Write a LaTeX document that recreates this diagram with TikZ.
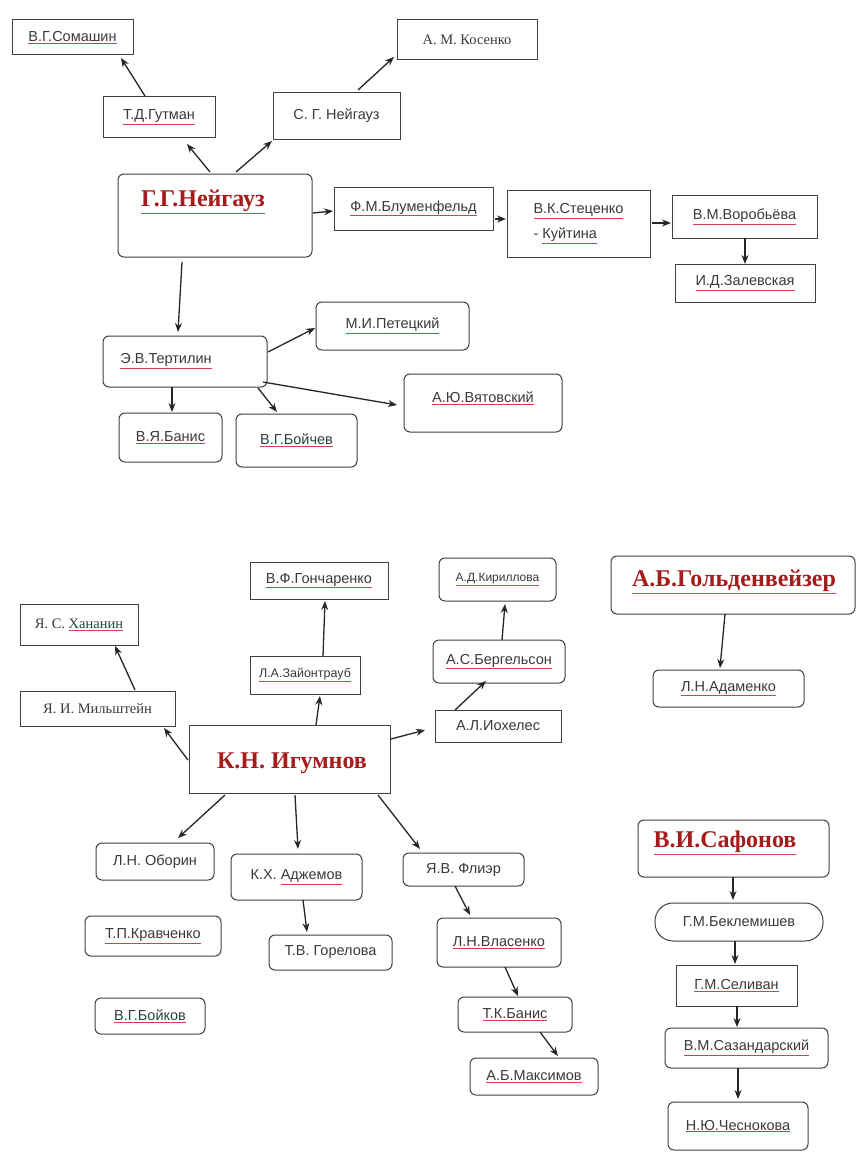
\documentclass[tikz,border=0pt]{standalone}
\usepackage{fontspec}
\setmainfont{Liberation Sans}
\newfontfamily\tnr{Liberation Serif}
\usetikzlibrary{arrows.meta}
\definecolor{bigred}{HTML}{A51C1C}
\definecolor{txt}{HTML}{3A3A3A}
\definecolor{spell}{HTML}{D04050}
\definecolor{edge}{HTML}{404040}
\newcommand\ul[1]{{\color{spell}\underline{\color{txt}#1}}}
\newcommand\ulr[1]{{\color{spell}\underline{\color{bigred}#1}}}
\newcommand\bx[7][sq]{\node[#1, minimum width={(#5)-(#3)}, minimum height={(#6)-(#4)}] (#2) at ({(#3+#5)/2},{(#4+#6)/2}) {#7};}
\newcommand\conn[8]{\draw[arr] ([xshift=#3pt,yshift=#4pt]#1.#2) -- ([xshift=#7pt,yshift=#8pt]#5.#6);}
\tikzset{
 sq/.style={draw=edge, line width=1pt, inner sep=0pt, outer sep=0pt, font=\fontsize{14.5}{16}\selectfont, text=txt},
 rd/.style={sq, rounded corners=6pt},
 stad/.style={sq, rounded corners=18pt},
 txtn/.style={inner sep=0pt, font=\fontsize{14.5}{16}\selectfont, text=txt},
 big/.style={inner sep=0pt, font=\tnr\bfseries\fontsize{24}{28}\selectfont, text=bigred},
 arr/.style={draw=black!85, line width=1.3pt, -{Stealth[length=9pt,width=7pt]}}
}
\begin{document}
\begin{tikzpicture}[x=1pt,y=-1pt]
\useasboundingbox[fill=white] (0,0) rectangle (857,1153);
% ---- Neuhaus ----
\bx{som}{12}{20}{133}{55}{\ul{В.Г.Сомашин}}
\bx{gut}{103}{97}{215}{137}{\ul{Т.Д.Гутман}}
\bx{sg}{273}{93}{400}{139}{С. Г. Нейгауз}
\bx{kos}{397}{20}{537}{60}{\tnr А. М. Косенко}
\bx[rd]{nei}{118}{174}{312}{257}{}
\node[big] (neit) at (203,202) {\ulr{Г.Г.Нейгауз}};
\bx{blu}{334}{187}{493}{230}{\ul{Ф.М.Блуменфельд}}
\bx[sq,align=left,font=\fontsize{14.5}{25}\selectfont]{ste}{507}{190}{650}{257}{\ul{В.К.Стеценко}\\- \ul{Куйтина}}
\bx{vor}{672}{195}{817}{238}{\ul{В.М.Воробьёва}}
\bx{zal}{675}{264}{815}{302}{\ul{И.Д.Залевская}}
\bx[rd]{ter}{103}{336}{267}{387}{}
\node[txtn] (tert) at (166,361) {\ul{Э.В.Тертилин}};
\bx[rd]{pet}{316}{302}{469}{350}{\ul{М.И.Петецкий}}
\bx[rd]{vya}{404}{374}{562}{432}{}
\node[txtn] (vyat) at (483,398) {\ul{А.Ю.Вятовский}};
\bx[rd]{ban}{119}{413}{222}{462}{\ul{В.Я.Банис}}
\bx[rd]{boi}{236}{414}{357}{467}{\ul{В.Г.Бойчев}}
\conn{nei}{north west}{92}{2}{gut}{south west}{84}{-7}
\conn{nei}{north west}{118}{2}{sg}{south west}{-1}{-2}
\conn{gut}{north west}{42}{1}{som}{south west}{109}{-3}
\conn{sg}{north west}{85}{3}{kos}{south west}{-3}{3}
\conn{nei}{north east}{1}{-39}{blu}{west}{-1}{-2.5}
\conn{blu}{south east}{2}{11}{ste}{south west}{-1}{38}
\conn{ste}{north east}{2}{-33}{vor}{north west}{-1}{-28}
\conn{vor}{south west}{73}{0}{zal}{north west}{70}{0}
\conn{nei}{south west}{64}{-5}{ter}{north west}{75}{4}
\conn{ter}{north east}{1}{-16}{pet}{south west}{-1}{22}
\conn{ter}{south east}{-4}{5}{vya}{south west}{-7}{27}
\conn{ter}{south west}{69}{0}{ban}{north west}{53}{1}
\conn{ter}{south east}{-9}{-1}{boi}{north west}{41}{2}
% ---- Igumnov ----
\bx{han}{20}{604}{138}{645}{\tnr Я. С. \ul{Хананин}}
\bx{mil}{20}{691}{175}{726}{\tnr Я. И. Мильштейн}
\bx{gon}{250}{562}{388}{599}{\ul{В.Ф.Гончаренко}}
\bx[sq,font=\fontsize{12.5}{14}\selectfont]{zai}{250}{656}{360}{694}{\ul{Л.А.Зайонтрауб}}
\bx{ig}{189}{725}{390}{793}{}
\node[big] (igt) at (292,763) {К.Н. Игумнов};
\bx{ioh}{435}{710}{561}{742}{А.Л.Иохелес}
\bx[rd]{ber}{433}{640}{565}{683}{\ul{А.С.Бергельсон}}
\bx[rd,font=\fontsize{12}{14}\selectfont]{kir}{439}{558}{556}{601}{\ul{А.Д.Кириллова}}
\bx[rd]{obo}{96}{843}{214}{880}{Л.Н. Оборин}
\bx[rd]{adj}{231}{854}{362}{900}{К.Х. \ul{Аджемов}}
\bx[rd]{gor}{269}{935}{392}{970}{Т.В. Горелова}
\bx[rd]{fli}{403}{853}{524}{886}{Я.В. Флиэр}
\bx[rd]{vla}{437}{918}{561}{967}{\ul{Л.Н.Власенко}}
\bx[rd]{kra}{85}{916}{221}{956}{\ul{Т.П.Кравченко}}
\bx[rd]{bky}{95}{998}{205}{1034}{\ul{В.Г.Бойков}}
\bx[rd]{tkb}{458}{997}{572}{1032}{\ul{Т.К.Банис}}
\bx[rd]{max}{470}{1058}{598}{1095}{\ul{А.Б.Максимов}}
\conn{ig}{north west}{-1}{-35}{mil}{south west}{144}{-2}
\conn{mil}{north west}{115}{1}{han}{south west}{95}{-1}
\conn{ig}{north west}{127}{0}{zai}{south west}{70}{-2}
\conn{zai}{north west}{73}{0}{gon}{south west}{75}{-2}
\conn{ig}{north east}{1}{-14}{ioh}{south west}{-10}{12}
\conn{ioh}{north west}{20}{0}{ber}{south west}{53}{2}
\conn{ber}{north west}{69}{0}{kir}{south west}{66}{-3}
\conn{ig}{south west}{36}{-2}{obo}{north west}{82}{5}
\conn{ig}{south west}{106}{-2}{adj}{north west}{67}{5}
\conn{ig}{south west}{189}{-2}{fli}{north west}{17}{4}
\conn{adj}{south west}{72}{0}{gor}{north west}{38}{3}
\conn{fli}{south west}{52}{0}{vla}{north west}{33}{3}
\conn{vla}{south west}{68}{0}{tkb}{north west}{60}{1}
\conn{tkb}{south west}{82}{0}{max}{north west}{88}{2}
% ---- Goldenweiser ----
\bx[rd]{gol}{611}{556}{855}{614}{}
\node[big] (golt) at (734,582) {\ulr{А.Б.Гольденвейзер}};
\bx[rd]{ada}{653}{670}{804}{707}{\ul{Л.Н.Адаменко}}
\conn{gol}{south west}{114}{0}{ada}{north west}{67}{2}
% ---- Safonov ----
\bx[rd]{saf}{638}{820}{829}{877}{}
\node[big] (saft) at (725,843) {\ulr{В.И.Сафонов}};
\bx[stad]{bek}{655}{903}{823}{941}{Г.М.Беклемишев}
\bx{sel}{676}{965}{797}{1006}{\ul{Г.М.Селиван}}
\bx[rd]{saz}{665}{1028}{828}{1068}{\ul{В.М.Сазандарский}}
\bx[rd]{che}{668}{1102}{808}{1150}{\ul{Н.Ю.Чеснокова}}
\conn{saf}{south west}{95}{0}{bek}{north west}{78}{3}
\conn{bek}{south west}{80}{0}{sel}{north west}{59}{1}
\conn{sel}{south west}{61}{0}{saz}{north west}{72}{1}
\conn{saz}{south west}{73}{0}{che}{north west}{70}{3}
\end{tikzpicture}
\end{document}
